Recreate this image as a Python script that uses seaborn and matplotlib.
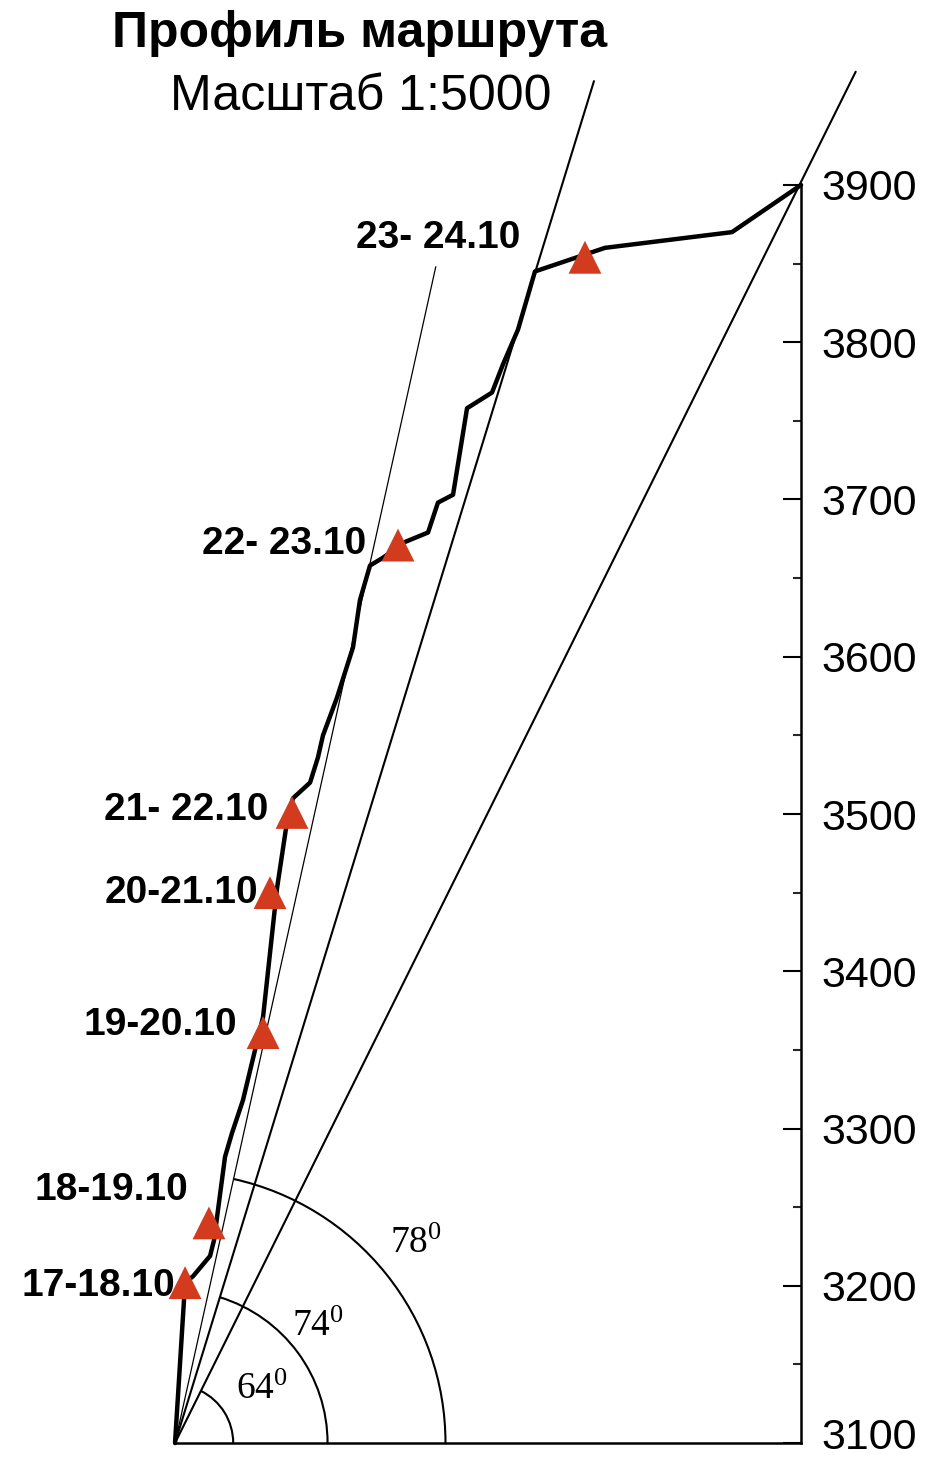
import numpy as np
import seaborn as sns
import matplotlib.pyplot as plt
from matplotlib.patches import Arc
from matplotlib.transforms import ScaledTranslation

sns.set_style("white")
plt.rcParams["font.family"] = ["Liberation Sans", "DejaVu Sans"]
plt.rcParams["mathtext.fontset"] = "custom"
plt.rcParams["mathtext.rm"] = "Liberation Serif"
plt.rcParams["text.color"] = "black"

TRIANGLE_COLOR = "#D23B1E"

# route profile: horizontal distance from start (m) and elevation (m)
ROUTE_DIST = [0, 6.4, 11.4, 22.3, 24.8, 27.3, 31.8, 36.2, 43.2, 50.9, 56.0,
              64.9, 71.2, 75.0, 85.9, 90.9, 94.1, 103.0, 113.2, 117.6, 124.0,
              132.3, 146.3, 160.9, 167.2, 176.8, 185.7, 201.6, 208.6, 218.1,
              228.9, 273.4, 354.2, 398.1]
ROUTE_ELEV = [3100, 3202, 3206, 3219, 3229, 3248, 3282, 3297, 3318, 3350, 3371,
              3453, 3495, 3510, 3520, 3536, 3550, 3574, 3606, 3636, 3658,
              3663, 3673, 3679, 3698, 3703, 3758, 3768, 3786, 3808,
              3845, 3860, 3870, 3900]

# bivouacs
CAMP_DIST = [6.4, 21.6, 56.0, 60.4, 74.4, 141.8, 260.7]
CAMP_ELEV = [3202, 3240, 3361, 3450, 3501, 3671, 3854]
CAMP_LABELS = ["17-18.10", "18-19.10", "19-20.10", "20-21.10",
               "21- 22.10", "22- 23.10", "23- 24.10"]

# slope lines from the start point
SLOPE_ANGLES = [63.6, 72.9, 77.5]
SLOPE_NAMES = ["64", "74", "78"]
SLOPE_END_ELEV = [3972, 3966, 3848]
ARC_RADII = [37, 97, 172]

ELEV_TICKS = [3100, 3200, 3300, 3400, 3500, 3600, 3700, 3800, 3900]

# layout (pixels at 100 dpi)
LABEL_OFFSETS = [(-10, -13), (-21, 23), (-26, -2), (-12, -10),
                 (-24, -8), (-32, -9), (-65, 9)]
ANGLE_TEXT_POS = [(55, 3134), (91, 3174), (153, 3227)]
SLOPE_WIDTHS = [1.5, 1.5, 0.9]


def make_profile_chart():
    fig = plt.figure(figsize=(9.38, 14.58), dpi=100)
    ax = fig.add_axes([0, 0, 1, 1])
    x_end = ROUTE_DIST[-1]

    # slope lines
    for ang, z_end, lw in zip(SLOPE_ANGLES, SLOPE_END_ELEV, SLOPE_WIDTHS):
        dx = (z_end - ELEV_TICKS[0]) / np.tan(np.radians(ang))
        sns.lineplot(x=[0, dx], y=[ELEV_TICKS[0], z_end], color="black",
                     linewidth=lw, ax=ax, zorder=2)

    # angle arcs
    for ang, r, name, pos in zip(SLOPE_ANGLES, ARC_RADII, SLOPE_NAMES, ANGLE_TEXT_POS):
        ax.add_patch(Arc((0, ELEV_TICKS[0]), 2 * r, 2 * r, theta1=0, theta2=ang,
                         color="black", linewidth=1.5, zorder=2))
        ax.text(pos[0], pos[1], r"$\mathregular{" + name + "^{0}}$",
                family="Liberation Serif", fontsize=27, ha="center", va="center")

    sns.lineplot(x=ROUTE_DIST, y=ROUTE_ELEV, sort=False, estimator=None,
                 color="black", linewidth=3.2, ax=ax, zorder=3)
    sns.scatterplot(x=CAMP_DIST, y=CAMP_ELEV, marker="^", s=560,
                    color=TRIANGLE_COLOR, edgecolor="none", ax=ax, zorder=4)

    for x, z, lab, (ox, oy) in zip(CAMP_DIST, CAMP_ELEV, CAMP_LABELS, LABEL_OFFSETS):
        ax.annotate(lab, (x, z), xytext=(ox * 0.72, oy * 0.72),
                    textcoords="offset points", ha="right", va="baseline",
                    fontsize=28, fontweight="bold", color="black")

    ax.set_xlim(-111.3, 485.2)
    ax.set_ylim(3090.5, 4017.6)

    for side in ["left", "top"]:
        ax.spines[side].set_visible(False)
    ax.spines["right"].set_position(("data", x_end))
    ax.spines["right"].set_bounds(ELEV_TICKS[0], ELEV_TICKS[-1])
    ax.spines["bottom"].set_position(("data", ELEV_TICKS[0]))
    ax.spines["bottom"].set_bounds(0, x_end)
    for side in ["right", "bottom"]:
        ax.spines[side].set_linewidth(1.8)
        ax.spines[side].set_color("black")

    ax.set_xticks([])
    ax.yaxis.tick_right()
    ax.set_yticks(ELEV_TICKS)
    ax.set_yticks([t + 50 for t in ELEV_TICKS[:-1]], minor=True)
    ax.tick_params(axis="y", which="major", direction="in", length=13,
                   width=1.5, pad=15, labelsize=31, colors="black")
    ax.tick_params(axis="y", which="minor", direction="in", length=6, width=1.5)
    ax.grid(False)

    # lowest label sits right at the page edge, lift it a little
    fig.canvas.draw()
    bottom_label = ax.yaxis.get_majorticklabels()[0]
    bottom_label.set_transform(bottom_label.get_transform()
                               + ScaledTranslation(0, 10 / 100, fig.dpi_scale_trans))

    fig.text(360 / 938, 1 - 47 / 1458, "Профиль маршрута", ha="center",
             va="baseline", fontsize=36, fontweight="bold")
    fig.text(361 / 938, 1 - 110 / 1458, "Масштаб 1:5000", ha="center",
             va="baseline", fontsize=36)

    plt.savefig("out.png", dpi=100)
    plt.close()


if __name__ == "__main__":
    make_profile_chart()
